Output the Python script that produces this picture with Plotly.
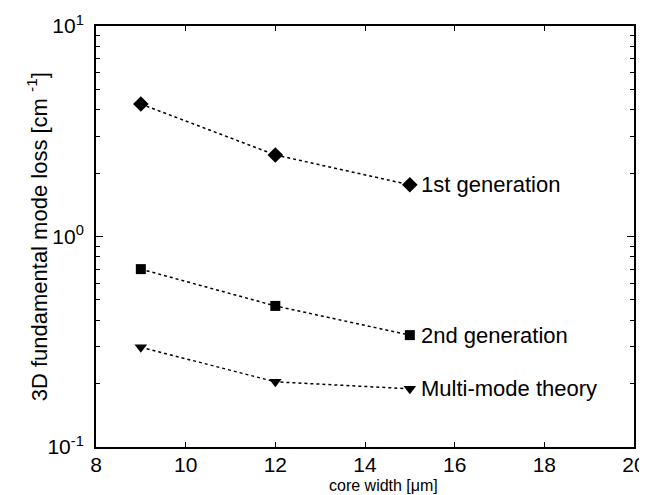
import math
import plotly.graph_objects as go

core_width = [9, 12, 15]
loss_1st = [4.26, 2.44, 1.76]
loss_2nd = [0.70, 0.468, 0.340]
loss_multi = [0.298, 0.204, 0.189]
series_names = ["1st generation", "2nd generation", "Multi-mode theory"]
y_tick_vals = [0.1, 1, 10]
y_tick_text = ["10<sup>-1</sup>", "10<sup>0</sup>", "10<sup>1</sup>"]
x_tick_vals = [8, 10, 12, 14, 16, 18, 20]
x_title = "core width [μm]"
y_title = "3D fundamental mode loss [cm <sup>-1</sup>]"

FONT = "Liberation Sans, Arial, sans-serif"
symbols = ["diamond", "square", "triangle-down"]
sizes = [12, 10, 11]
data = [loss_1st, loss_2nd, loss_multi]

fig = go.Figure()
for name, ys, sym, sz in zip(series_names, data, symbols, sizes):
    fig.add_trace(go.Scatter(
        x=core_width, y=ys, mode="lines+markers", name=name,
        line=dict(color="black", width=1.5, dash="dot"),
        marker=dict(symbol=sym, size=sz, color="black"),
        showlegend=False,
    ))
    fig.add_annotation(x=core_width[-1], y=math.log10(ys[-1]), yref="y", xref="x",
                       text=name, showarrow=False, xanchor="left", yanchor="middle",
                       xshift=9, font=dict(family=FONT, size=22, color="black"))

# axis titles
fig.add_annotation(xref="paper", yref="paper", x=0.535, y=-0.092, text=x_title,
                   showarrow=False, xanchor="center", yanchor="middle",
                   font=dict(family=FONT, size=16, color="black"))
fig.add_annotation(xref="paper", yref="paper", x=-0.11, y=0.5, text=y_title,
                   showarrow=False, xanchor="center", yanchor="middle", textangle=-90,
                   font=dict(family=FONT, size=22, color="black"))

minor_vals = []
for dec in [0.1, 1]:
    for k in range(2, 10):
        minor_vals.append(dec * k)

# page body has an 8px default margin, so the figure is offset by 8px
fig.update_layout(
    width=639, height=487,
    margin=dict(l=88, r=13, t=18, b=48),
    plot_bgcolor="white", paper_bgcolor="white",
    font=dict(family=FONT, color="black"),
)
fig.update_xaxes(
    range=[8, 20], tickvals=x_tick_vals, ticks="inside", ticklen=5,
    showline=True, linecolor="black", linewidth=2, mirror="ticks",
    showgrid=False, zeroline=False, tickcolor="black", automargin=False,
    ticklabelstandoff=-2,
    tickfont=dict(family=FONT, size=21, color="black"),
)
fig.update_yaxes(
    type="log", range=[-1, 1], tickvals=y_tick_vals, ticktext=y_tick_text,
    ticks="inside", ticklen=7, tickcolor="black", automargin=False,
    ticklabelstandoff=6,
    minor=dict(tickvals=minor_vals, ticks="inside", ticklen=4, tickcolor="black"),
    showline=True, linecolor="black", linewidth=2, mirror="ticks",
    showgrid=False, zeroline=False,
    tickfont=dict(family=FONT, size=21, color="black"),
)
fig.write_html("out.html")
